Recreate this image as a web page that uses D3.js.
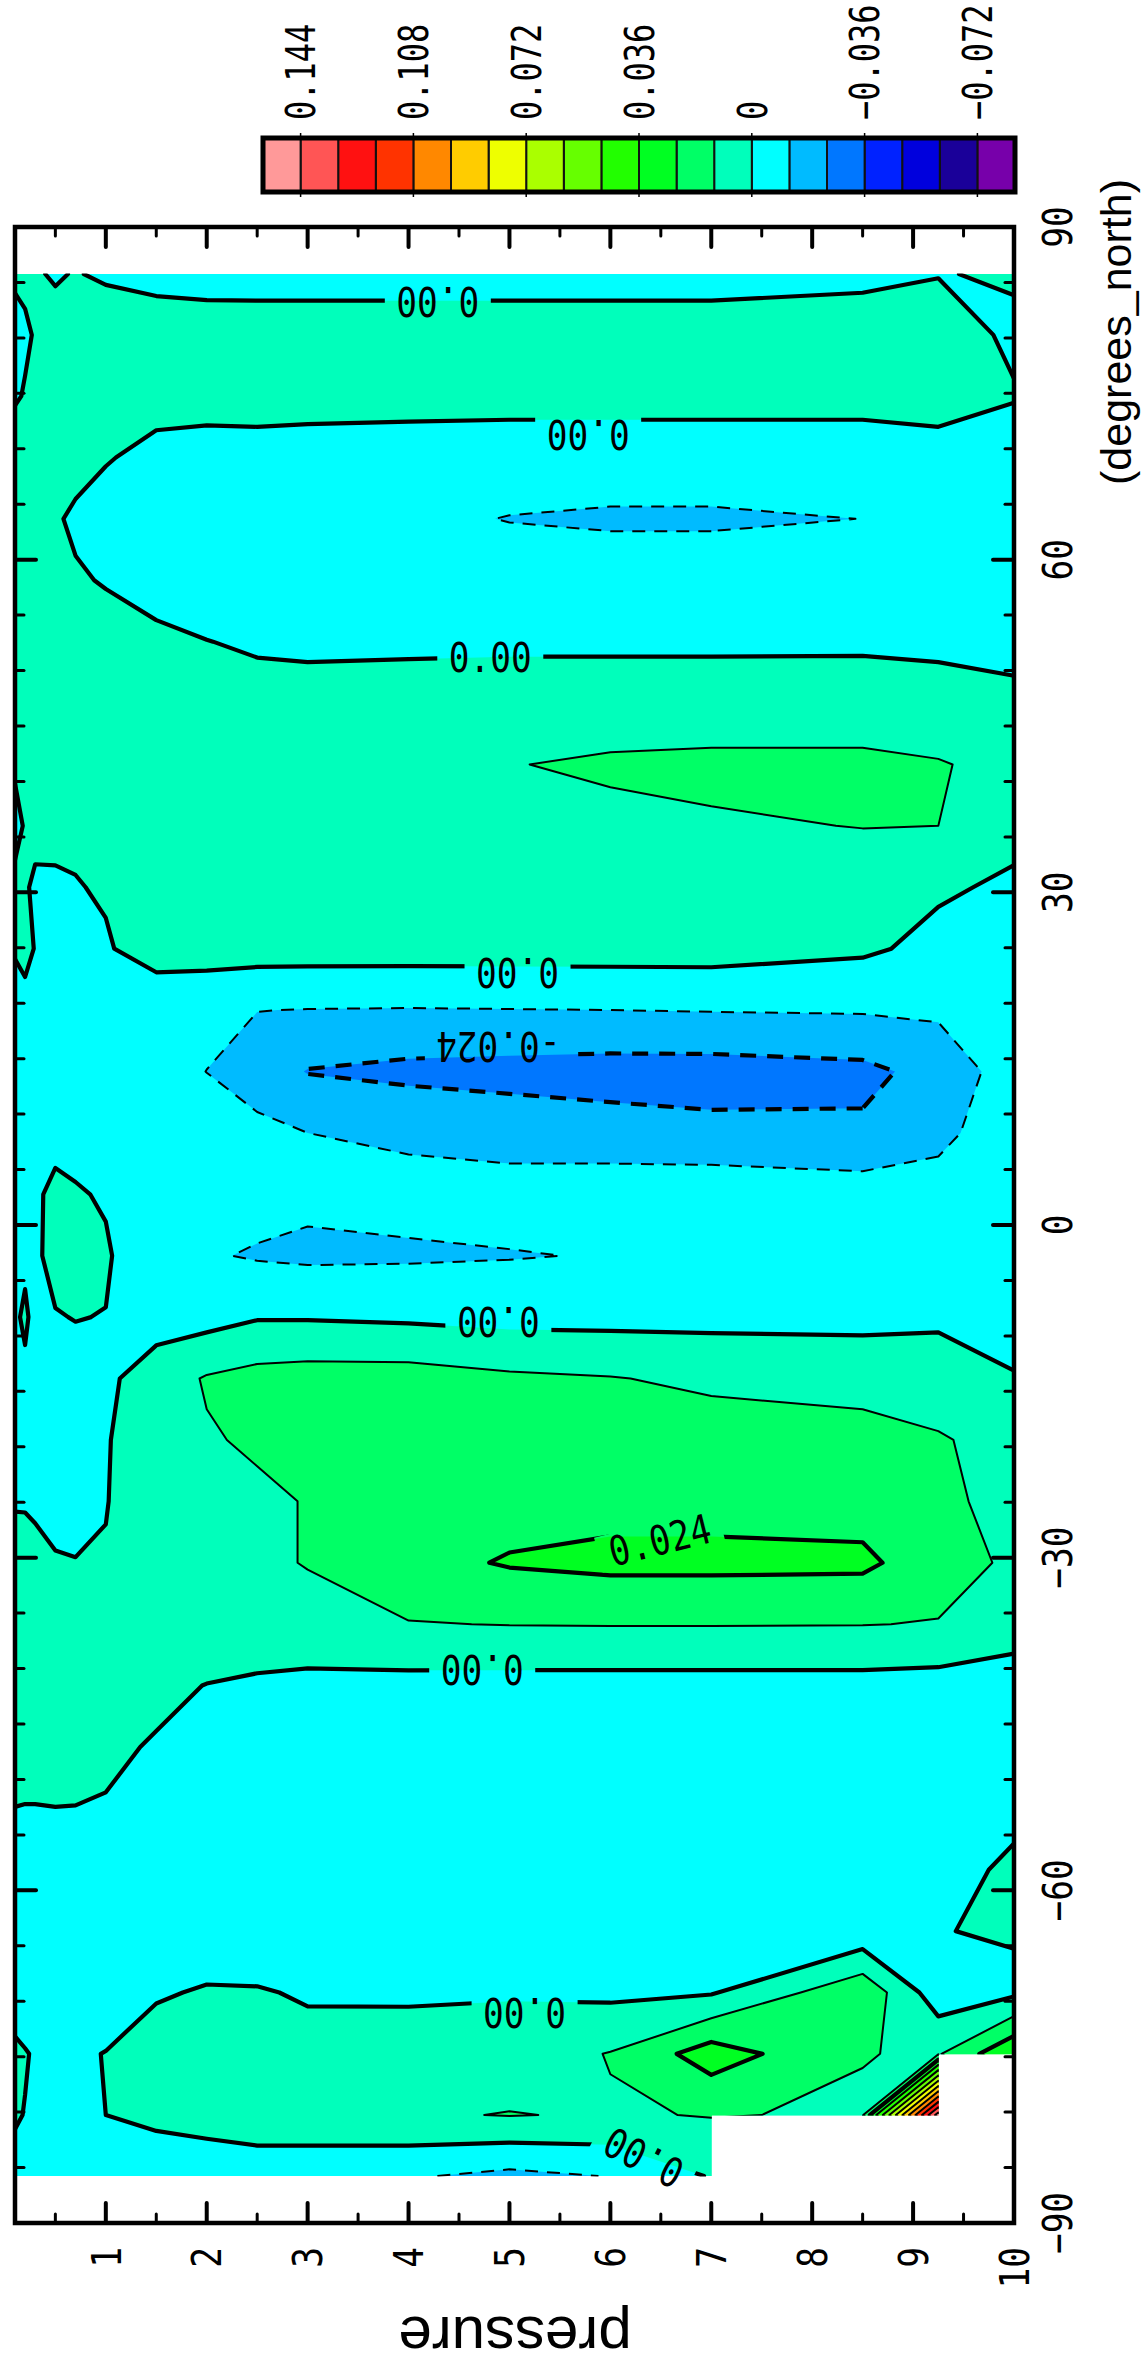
<!DOCTYPE html>
<html>
<head>
<meta charset="utf-8">
<script src="https://cdn.jsdelivr.net/npm/d3@7"></script>
<style>
  body { margin: 0; background: #fff; }
  svg { display: block; }
</style>
</head>
<body>
<div id="chart"></div>
<script>
// Grid: pressure levels (x) and latitudes (y, north to south)
const PRESSURE = [0.1, 0.2, 0.3, 0.5, 0.7, 1, 1.5, 2, 2.5, 3, 4, 5, 6, 7, 8.5, 9.25, 10];
const LATITUDE = [85.761, 80.269, 74.745, 69.213, 63.679, 58.143, 52.607, 47.070,
  41.532, 35.995, 30.458, 24.920, 19.382, 13.844, 8.307, 2.769,
  -2.769, -8.307, -13.844, -19.382, -24.920, -30.458, -35.995, -41.532,
  -47.070, -52.607, -58.143, -63.679, -69.213, -74.745, -80.269, -85.761];

// Field values in units of 0.001, one row per latitude, null = missing
const FIELD = [
  [1.0, 0.8, 0.5, -0.5, 0.3, -0.8, -2.5, -3, -3.5, -3.5, -3.5, -3.5, -3.5, -3.5, -2, -0.3, 0.8],
  [-2.2, -0.6, 0.3, 2, 3, 3.7, 4.4, 4, 4.5, 4.5, 4.5, 4.5, 4.5, 4.5, 4.5, 4, -1.5],
  [-0.5, 0.3, 1.5, 2.5, 3, 3, 2.5, 2, 2.5, 2.5, 2.5, 2.5, 2.5, 2.5, 2.5, 2.5, 0.6],
  [2.8, 3, 3, 3, 2.5, 0.5, -2, -2.2, -2.5, -3, -3.5, -4, -4, -4, -4, -2.5, -4.9],
  [3, 3, 2.5, 0.8, -1.2, -3, -4, -5, -6, -7, -9, -12.5, -14, -14, -11.9, -8, -5],
  [3, 3, 3, 2.5, 0.8, -0.5, -2.5, -3, -3.5, -4, -4, -4, -4, -4, -4, -3, -3],
  [3.5, 3.5, 3.5, 3.5, 3.5, 3, 1.35, 0.1, -0.7, -1, -1.2, -1.3, -1.3, -1.3, -1.2, -1, -0.5],
  [4, 4, 4, 4, 4, 4, 4, 3, 2, 2, 3, 4, 4, 4, 4, 2, 0.4],
  [0.45, 3, 4, 5, 5, 5.5, 6, 6.5, 7, 7.5, 8, 11.5, 14, 15, 15, 13, 7.7],
  [-1, 0.3, 1, 2, 2, 3, 4, 5, 5.5, 6, 7, 8, 8.6, 10.6, 12.3, 12, 3],
  [0.8, 0.4, -0.6, -1.1, -0.5, 1, 4, 5, 5.5, 6, 6.5, 7, 7, 7, 5, 1.45, -1.7],
  [0.3, 0.3, -0.05, -1.5, -1.5, -1, 5, 5, 5, 5, 5, 5, 5, 5, 1.9, -3.1, -4],
  [-1.5, -0.35, -1, -2, -2.5, -3, -8, -9, -11.8, -12.3, -12.6, -12.3, -12, -11.5, -11, -10, -5],
  [-2, -1.5, -2, -2.5, -3, -4, -8, -12.1, -18, -24.5, -27, -28, -29, -29, -27, -20, -6],
  [-2, -2, -2, -2, -3, -3, -5, -7, -8.9, -12, -14, -17, -19, -21, -22, -14.5, -6],
  [-2, -1.5, -1, 1.5, 0.75, -0.8, -3, -5, -8, -9.8, -8.3, -7, -5, -3.7, -6, -8, -4],
  [-1, -0.6, -1.08, 2, 2, 1, -7, -11, -13, -14, -13.5, -12.6, -11.4, -8, -6, -5, -4],
  [-0.5, 0.5, -1, -0.35, 0.2, -0.19, -5.1, -4.3, -0.84, -0.9, -1.9, -3.5, -3.6, -3.5, -3.4, -2, -6.7],
  [-1.5, -0.6, -2, -2, -2.5, -2.3, 6, 13, 16, 17, 17, 14, 12.5, 10, 8, 6, 1],
  [-2, -2, -2, -1.5, -1, -0.5, 4.5, 11, 13.5, 15, 16, 17, 17, 17, 16, 13, 8],
  [-0.3, -0.4, -1.5, -1.2, -1, -0.3, 5, 8, 10, 12.5, 17, 19, 20, 20, 19, 14, 9],
  [1.5, 1.8, 2.7, 0.3, 0.1, 0.5, 6, 9, 10, 12.5, 20, 25, 27, 27, 26.5, 17, 10],
  [3, 3, 3, 3, 3, 3.5, 5, 6, 7, 8, 11.5, 12.3, 12.5, 12.5, 12.3, 11.5, 5],
  [2.5, 2.5, 2.5, 2.5, 2.5, 2.5, 2, -0.2, -1.75, -3.1, -3.8, -4.1, -4.2, -4.2, -4.1, -4.9, -5.4],
  [2, 2, 2, 2, 2, 1.5, -0.7, -2, -3, -3.5, -4, -4, -4, -4, -4, -4, -4],
  [-0.05, -0.15, -0.15, -0.05, -0.1, -0.53, -2, -3, -3.5, -4, -4, -4, -4, -4, -4, -4, -2],
  [-2, -2, -2, -2, -2, -2, -2.5, -3, -3.5, -4, -4, -4, -4, -4, -4, -3, 1.5],
  [-1, -2, -2, -2, -2, -2, -2.5, -3, -3.5, -4, -4, -4, -4, -3, -8.7, -0.3, 1],
  [-1, -2, -2, -2, -2, -2, -0.5, 0.45, 0.39, -0.5, -1, -1, -2.5, -1, 21, -7, -2.5],
  [0.4, 0.2, -0.3, -1, -0.5, 0.1, 2.3, 4, 4, 1.7, 3.3, 6, 12.5, 30, 12.3, 11, 35],
  [0.3, -0.1, -1, -2, -1.5, 0, 2, 4, 6, 7, 10.8, 12.4, 11, 12.5, 11, 150, null],
  [-1, -1.5, -2, -3, -3, -2, -5.7, -6.3, -6, -7, -10.8, -15, -11.6, 0.9, null, null, null]
];

// Contour levels (units of 0.001) and the fill colour of each band, lowest band first
const LEVELS = d3.range(-72, 145, 12);
const BAND_COLORS = ["#7700aa", "#1a0099", "#0000dd", "#0022ff", "#0077ff", "#00bbff",
  "#00ffff", "#00ffbb", "#00ff66", "#00ff22", "#22ff00", "#66ff00", "#aaff00", "#eeff00",
  "#ffcc00", "#ff8800", "#ff3300", "#ff1111", "#ff5555", "#ff9999"];

const COLORBAR_TICKS = [0.144, 0.108, 0.072, 0.036, 0, -0.036, -0.072];
const LAT_LABELS = [90, 60, 30, 0, -30, -60, -90];
const PRESSURE_LABELS = [1, 2, 3, 4, 5, 6, 7, 8, 9, 10];

// Contour labels: anchor in data space, text and angle
const CONTOUR_LABELS = [
  { p: 4.29, lat: 83.24, text: "0.00", angle: 180 },
  { p: 5.78, lat: 71.25, text: "0.00", angle: 180 },
  { p: 4.81, lat: 51.23, text: "0.00", angle: 0 },
  { p: 5.08, lat: 22.73, text: "0.00", angle: 180 },
  { p: 4.89, lat: -8.74, text: "0.00", angle: 180 },
  { p: 4.73, lat: -40.1, text: "0.00", angle: 180 },
  { p: 5.15, lat: -71.05, text: "0.00", angle: 180 },
  { p: 6.33, lat: -84.1, text: "0.00", angle: 207 },
  { p: 6.49, lat: -28.4, text: "0.024", angle: -14 },
  { p: 4.89, lat: 16.06, text: "-0.024", angle: 180 }
];

const W = 1143, H = 2372;
const MONO = "'DejaVu Sans Mono', monospace";
const SANS = "'Liberation Sans', Arial, sans-serif";

const svg = d3.select("#chart").append("svg")
  .attr("width", W)
  .attr("height", H);
const defs = svg.append("defs");

const n = PRESSURE.length, m = LATITUDE.length;
const x = d3.scaleLinear().domain([0.1, 10]).range([15, 1014]);
const y = d3.scaleLinear().domain([90, -90]).range([227, 2223]);

// grid index space of d3.contours -> pixels (value i sits at i + 0.5)
const gx = d3.scaleLinear().domain(PRESSURE.map((_, i) => i + 0.5)).range(PRESSURE.map(x)).clamp(true);
const gy = d3.scaleLinear().domain(LATITUDE.map((_, j) => j + 0.5)).range(LATITUDE.map(y)).clamp(true);

const values = FIELD.flat().map(v => v == null ? 0 : v);
const contours = d3.contours().size([n, m]).thresholds(LEVELS)(values);

// Clip to the grid cells whose four corners are present
const clip = defs.append("clipPath").attr("id", "valid");
for (let j = 0; j < m - 1; j++) {
  for (let i = 0; i < n - 1; i++) {
    const ok = [FIELD[j][i], FIELD[j][i + 1], FIELD[j + 1][i], FIELD[j + 1][i + 1]].every(v => v != null);
    if (!ok) continue;
    clip.append("rect")
      .attr("x", x(PRESSURE[i]) - 0.5)
      .attr("y", y(LATITUDE[j]) - 0.5)
      .attr("width", x(PRESSURE[i + 1]) - x(PRESSURE[i]) + 1)
      .attr("height", y(LATITUDE[j + 1]) - y(LATITUDE[j]) + 1);
  }
}

const line = d3.line().x(p => gx(p[0])).y(p => gy(p[1]));

// Filled bands
const fills = svg.append("g").attr("clip-path", "url(#valid)");
contours.forEach((c, k) => {
  let d = "";
  c.coordinates.forEach(poly => poly.forEach(ring => { d += line(ring) + "Z"; }));
  if (!d) return;
  fills.append("path")
    .attr("d", d)
    .attr("fill", BAND_COLORS[k + 1])
    .attr("fill-rule", "evenodd");
});

// Isolines: polygon rings without the pieces that run along the grid border
const EPS = 1e-6;
function onBorder(a, b) {
  return (a[0] <= 0.5 + EPS && b[0] <= 0.5 + EPS) ||
    (a[0] >= n - 0.5 - EPS && b[0] >= n - 0.5 - EPS) ||
    (a[1] <= 0.5 + EPS && b[1] <= 0.5 + EPS) ||
    (a[1] >= m - 0.5 - EPS && b[1] >= m - 0.5 - EPS);
}
function isolineRuns(ring) {
  const keep = [];
  for (let k = 0; k < ring.length - 1; k++) keep.push(!onBorder(ring[k], ring[k + 1]));
  if (keep.every(Boolean)) return [{ pts: ring, closed: true }];
  const L = keep.length;
  const start = keep.indexOf(false);
  const runs = [];
  let cur = null;
  for (let t = 1; t <= L; t++) {
    const k = (start + t) % L;
    if (keep[k]) {
      if (!cur) cur = [ring[k]];
      cur.push(ring[k + 1]);
    } else if (cur) {
      runs.push({ pts: cur, closed: false });
      cur = null;
    }
  }
  if (cur) runs.push({ pts: cur, closed: false });
  return runs;
}

// Gaps in the lines where the labels sit
const mask = defs.append("mask").attr("id", "gaps")
  .attr("maskUnits", "userSpaceOnUse")
  .attr("x", 0).attr("y", 0).attr("width", W).attr("height", H);
mask.append("rect").attr("width", W).attr("height", H).attr("fill", "#fff");
CONTOUR_LABELS.forEach(l => {
  const gw = l.text.length * 20.5 + 24;
  mask.append("rect")
    .attr("x", -gw / 2).attr("y", -18)
    .attr("width", gw).attr("height", 36)
    .attr("transform", `translate(${x(l.p)},${y(l.lat)}) rotate(${l.angle})`)
    .attr("fill", "#000");
});

const lines = svg.append("g").attr("clip-path", "url(#valid)")
  .append("g").attr("mask", "url(#gaps)");
contours.forEach(c => {
  const v = c.value;
  const thick = v % 24 === 0 && v <= 24;
  const dashed = v < 0;
  c.coordinates.forEach(poly => poly.forEach(ring => {
    isolineRuns(ring).forEach(r => {
      lines.append("path")
        .attr("d", line(r.pts) + (r.closed ? "Z" : ""))
        .attr("fill", "none")
        .attr("stroke", "#000")
        .attr("stroke-width", thick ? 4.2 : 2)
        .attr("stroke-linejoin", "round")
        .attr("stroke-linecap", dashed ? "butt" : "round")
        .attr("stroke-dasharray", dashed ? (thick ? "16 11" : "13 9") : null);
    });
  }));
});

// Contour labels
CONTOUR_LABELS.forEach(l => {
  svg.append("text")
    .attr("transform", `translate(${x(l.p)},${y(l.lat)}) rotate(${l.angle}) scale(0.84,1)`)
    .attr("text-anchor", "middle")
    .attr("dy", "0.36em")
    .attr("font-family", MONO)
    .attr("font-size", 41)
    .attr("fill", "#000")
    .text(l.text);
});

// Ticks
const ticks = svg.append("g").attr("stroke", "#000").attr("stroke-linecap", "round");
d3.range(0.5, 10, 0.5).forEach(p => {
  const major = Number.isInteger(p);
  const len = major ? 20 : 9;
  [[227, 1], [2223, -1]].forEach(([y0, s]) => {
    ticks.append("line")
      .attr("x1", x(p)).attr("x2", x(p))
      .attr("y1", y0).attr("y2", y0 + s * len)
      .attr("stroke-width", major ? 4 : 3);
  });
});
d3.range(-85, 90, 5).forEach(lat => {
  const major = lat % 30 === 0;
  const len = major ? 21 : 9;
  [[15, 1], [1014, -1]].forEach(([x0, s]) => {
    ticks.append("line")
      .attr("x1", x0).attr("x2", x0 + s * len)
      .attr("y1", y(lat)).attr("y2", y(lat))
      .attr("stroke-width", major ? 4 : 3);
  });
});

// Frame
svg.append("rect")
  .attr("x", 15).attr("y", 227)
  .attr("width", 999).attr("height", 1996)
  .attr("fill", "none")
  .attr("stroke", "#000")
  .attr("stroke-width", 4.5);

// Tick labels
const tickLabel = (tx, ty, anchor, text, sx = 0.84) => svg.append("text")
  .attr("transform", `translate(${tx},${ty}) rotate(-90) scale(${sx},1)`)
  .attr("text-anchor", anchor)
  .attr("dy", "0.36em")
  .attr("font-family", MONO)
  .attr("font-size", 41)
  .attr("fill", "#000")
  .text(text);

PRESSURE_LABELS.forEach(p => tickLabel(x(p), 2247, "end", String(p)));
LAT_LABELS.forEach(lat => tickLabel(1057, y(lat), "middle", String(lat).replace("-", "\u2212")));

// Axis titles
svg.append("text")
  .attr("transform", "translate(1131,332) rotate(-90)")
  .attr("text-anchor", "middle")
  .attr("font-family", SANS)
  .attr("font-size", 43)
  .attr("fill", "#000")
  .text("(degrees_north)");

svg.append("text")
  .attr("transform", "translate(515,2317) rotate(180)")
  .attr("text-anchor", "middle")
  .attr("font-family", SANS)
  .attr("font-size", 60)
  .attr("fill", "#000")
  .text("pressure");

// Colour bar (high values on the left)
const cb = d3.scaleLinear().domain([156, -84]).range([263, 1015]);
BAND_COLORS.forEach((c, b) => {
  const lo = -84 + 12 * b;
  svg.append("rect")
    .attr("x", cb(lo + 12)).attr("y", 138)
    .attr("width", cb(lo) - cb(lo + 12)).attr("height", 54)
    .attr("fill", c)
    .attr("stroke", "#111")
    .attr("stroke-width", 2);
});
svg.append("rect")
  .attr("x", 263).attr("y", 138)
  .attr("width", 752).attr("height", 54)
  .attr("fill", "none")
  .attr("stroke", "#000")
  .attr("stroke-width", 5);

COLORBAR_TICKS.forEach(v => {
  const tx = cb(v * 1000);
  svg.append("line").attr("x1", tx).attr("x2", tx).attr("y1", 133).attr("y2", 140)
    .attr("stroke", "#000").attr("stroke-width", 1.5);
  svg.append("line").attr("x1", tx).attr("x2", tx).attr("y1", 190).attr("y2", 197)
    .attr("stroke", "#000").attr("stroke-width", 1.5);
  tickLabel(tx, 120, "start", v === 0 ? "0" : String(v).replace("-", "\u2212"), 0.78);
});
</script>
</body>
</html>
